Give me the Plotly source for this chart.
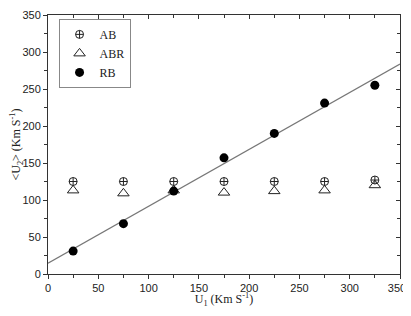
import numpy as np
import plotly.graph_objects as go

u1 = [25, 75, 125, 175, 225, 275, 325]
ab = [125, 125, 125, 125, 125, 125, 127]
abr = [113, 109, 113, 110, 112, 113, 120]
rb = [31, 68, 112, 157, 190, 231, 255]

x_tick_vals = [0, 50, 100, 150, 200, 250, 300, 350]
x_tick_text = ["0", "50", "100", "150", "200", "250", "300", "350\u00a0\u00a0"]

slope, intercept = np.polyfit(u1, rb, 1)
fit_x = [0, 350]
fit_y = [intercept + slope * v for v in fit_x]

fig = go.Figure()
fig.add_trace(go.Scatter(x=fit_x, y=fit_y, mode="lines", line=dict(color="#777777", width=1.3),
                         showlegend=False, hoverinfo="skip"))
fig.add_trace(go.Scatter(x=u1, y=ab, mode="markers", name="AB",
                         marker=dict(symbol="circle-cross-open", size=8, color="#222222", line=dict(width=1))))
fig.add_trace(go.Scatter(x=u1, y=abr, mode="markers", name="ABR",
                         marker=dict(symbol="triangle-up-open", size=10, color="#222222", line=dict(width=1))))
fig.add_trace(go.Scatter(x=u1, y=rb, mode="markers", name="RB",
                         marker=dict(symbol="circle", size=9, color="black")))

tickfont = dict(family="Liberation Sans, Arial", size=11, color="#222222")
titlefont = dict(family="Liberation Serif, Times New Roman", size=12, color="#222222")

axis_common = dict(showgrid=False, zeroline=False, showline=True, linecolor="#333333", linewidth=1,
                   ticks="outside", ticklen=4, tickcolor="#333333", tickfont=tickfont, automargin=False)

fig.update_layout(
    width=403, height=300,
    margin=dict(l=40, r=11, t=7, b=34),
    plot_bgcolor="white", paper_bgcolor="white",
    xaxis=dict(range=[0, 350], tickmode="array", tickvals=x_tick_vals, ticktext=x_tick_text,
               ticklabeloverflow="allow",
               minor=dict(dtick=25, ticks="outside", ticklen=3, tickcolor="#333333"),
               title=dict(text="U<sub>1</sub> (Km S<sup>-1</sup>)", font=titlefont),
               **axis_common),
    yaxis=dict(range=[0, 350], dtick=50, tick0=0,
               minor=dict(dtick=25, ticks="outside", ticklen=3, tickcolor="#333333"),
               title=dict(text="&lt;U<sub>2</sub>&gt; (Km S<sup>-1</sup>)", font=titlefont),
               **axis_common),
    xaxis2=dict(overlaying="x", side="top", range=[0, 350], dtick=50, showgrid=False, zeroline=False,
                showline=True, linecolor="#333333", linewidth=1, ticks="inside", ticklen=4,
                tickcolor="#333333", showticklabels=False, automargin=False,
                minor=dict(dtick=25, ticks="inside", ticklen=3, tickcolor="#333333")),
    yaxis2=dict(overlaying="y", side="right", range=[0, 350], dtick=50, showgrid=False, zeroline=False,
                showline=True, linecolor="#333333", linewidth=1, ticks="inside", ticklen=4,
                tickcolor="#333333", showticklabels=False, automargin=False,
                minor=dict(dtick=25, ticks="inside", ticklen=3, tickcolor="#333333")),
    legend=dict(x=0.03, y=0.985, xanchor="left", yanchor="top", bgcolor="white",
                bordercolor="#888888", borderwidth=1,
                font=dict(family="Liberation Serif, Times New Roman", size=12, color="#222222"),
                itemwidth=30, tracegroupgap=0),
    showlegend=True,
)
fig.add_trace(go.Scatter(x=[None], y=[None], xaxis="x2", yaxis="y2", showlegend=False, hoverinfo="skip"))

fig.write_html("out.html")
